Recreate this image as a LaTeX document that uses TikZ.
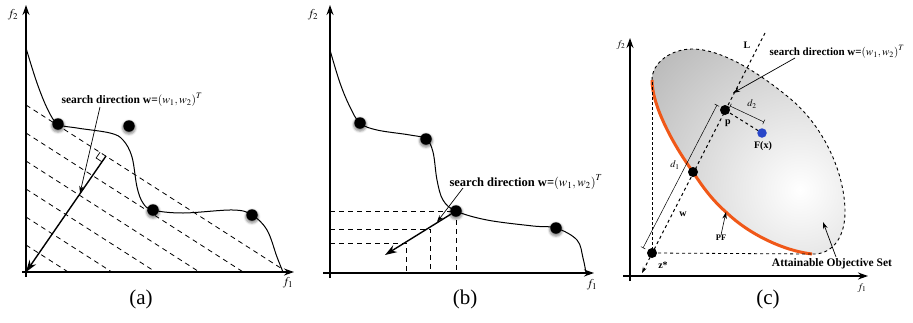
\documentclass[tikz,border=0pt]{standalone}
\usepackage{mathptmx}
\usepackage[no-math]{fontspec}
\setmainfont{Liberation Serif}
\usetikzlibrary{arrows.meta,shadows.blur,calc}
\definecolor{pforange}{RGB}{240,88,24}
\definecolor{fxblue}{RGB}{40,70,200}
\newcommand{\sdtext}{\textbf{search direction w=}$\left(w_1,w_2\right)^{T}$}
\newcommand{\aosupper}{(652,80) .. controls (652,62) and (672,49) .. (692,49) .. controls (720,49) and (755,70) .. (787,96) .. controls (825,126) and (845,175) .. (845,212) .. controls (845,240) and (830,255) .. (812,254)}
\newcommand{\aoslower}{(812,254) .. controls (785,251) and (750,235) .. (727,213) .. controls (712,200) and (702,186) .. (693,172) .. controls (672,143) and (652,105) .. (652,80)}
\begin{document}
\begin{tikzpicture}[x=1pt,y=-1pt,
  axis/.style={line width=1.5pt,-{Stealth[length=10pt,width=7pt]}},
  pfcurve/.style={line width=1pt},
  hatch/.style={line width=0.8pt,dash pattern=on 5pt off 4pt},
  dot/.style={circle,fill=black,inner sep=0pt,minimum size=11.5pt},
  sdot/.style={dot,blur shadow={shadow xshift=0pt,shadow yshift=-1.5pt,shadow blur radius=2pt,shadow scale=1.12,shadow opacity=45}},
  cdot/.style={circle,fill=black,inner sep=0pt,minimum size=10pt},
  dirarrow/.style={line width=1.4pt,-{Stealth[length=12pt,width=8pt]}},
  callout/.style={line width=0.7pt,-{Stealth[length=7pt,width=4.5pt]}},
  panel/.style={font=\fontsize{21}{23}\selectfont,inner sep=0pt},
  ax/.style={font=\fontsize{12}{14}\selectfont,inner sep=0pt},
  axc/.style={font=\fontsize{10}{12}\selectfont,inner sep=0pt},
  blbl/.style={font=\bfseries\fontsize{10}{12}\selectfont,inner sep=0pt},
  dlbl/.style={font=\fontsize{10}{12}\selectfont,inner sep=0pt},
  dimline/.style={line width=0.5pt,{Bar[width=5pt]}-{Bar[width=5pt]}},
]
\useasboundingbox (0,0) rectangle (913,322);

% ================= panel (a) =================
\coordinate (Oa) at (26,272);
\foreach \y/\xe in {245/68.2,217/111.9,189/155.7,161/199.4,133/243.2}
  \draw[hatch] (26,\y) -- (\xe,272);
\draw[hatch] (26,105) -- (281,268.2);
\draw[axis] (26,277) -- (26,5);
\draw[axis] (22,272) -- (294,272);
\node[ax] (f2a) at (13,15) {$f_2$};
\node[ax] (f1a) at (288,283) {$f_1$};
\coordinate (pa1) at (58,124);
\coordinate (pa2) at (153,210);
\coordinate (pa3) at (252,215);
\draw[pfcurve] plot[smooth,tension=0.6] coordinates {(26,48) (37,83) (48,110) (pa1) (77,128) (110,133) (123,140) (132,157) (137,187) (143,203) (pa2) (183,213) (233,210) (pa3) (267,230) (277,257) (283,272)};
\node[sdot] (a1) at (pa1) {};
\node[sdot] (a2) at (pa2) {};
\node[sdot] (a3) at (pa3) {};
\node[sdot] (a4) at (129,126) {};
\coordinate (Pa) at (106,156);
\draw[line width=0.7pt] (100.1,152.2) -- (96.1,158.0) -- (102.0,161.8);
\draw[dirarrow] (Pa) -- (Oa);
\node[font=\fontsize{11.5}{13}\selectfont,inner sep=0pt] (sda) at (132,100) {\sdtext};
\coordinate (sdaS) at (100,107);
\coordinate (ca) at (80,193);
\draw[callout] (sdaS) -- (ca);
\node[panel] (lba) at (141,299) {(a)};

% ================= panel (b) =================
\coordinate (pb1) at (360,123);
\coordinate (pb2) at (426,139);
\coordinate (pb3) at (456,211);
\coordinate (pb4) at (556,228);
\draw[hatch] (330,211) -- (pb3) -- (456,273);
\draw[hatch] (330,229) -- (430,229) -- (430,273);
\draw[hatch] (330,243) -- (406,243) -- (406,273);
\draw[axis] (330,278) -- (330,5);
\draw[axis] (323,273) -- (594,273);
\node[ax] (f2b) at (313,15) {$f_2$};
\node[ax] (f1b) at (592,285) {$f_1$};
\draw[pfcurve] plot[smooth,tension=0.6] coordinates {(330,50) (340,83) (350,107) (pb1) (377,130) (410,135) (pb2) (433,152) (437,180) (443,200) (pb3) (487,220) (533,226) (pb4) (577,240) (583,258) (586,273)};
\node[sdot] (b1) at (pb1) {};
\node[sdot] (b2) at (pb2) {};
\node[sdot] (b3) at (pb3) {};
\node[sdot] (b4) at (pb4) {};
\coordinate (bend) at (385,255);
\draw[dirarrow] (b3) -- (bend);
\node[font=\fontsize{12.5}{14}\selectfont,inner sep=0pt] (sdb) at (526,182) {\sdtext};
\coordinate (sdbS) at (463,188);
\coordinate (cb) at (437,222);
\draw[callout] (sdbS) -- (cb);
\node[panel] (lbb) at (465,299) {(b)};

% ================= panel (c) =================
\begin{scope}
\clip \aosupper -- \aoslower -- cycle;
\shade[inner color=white,outer color=black!30] (800,190) circle (215);
\end{scope}
\draw[dashed,line width=0.9pt] \aosupper;
\draw[pforange,line width=3pt] \aoslower;
\draw[axis] (630,281) -- (630,38);
\draw[axis] (623,276) -- (868,276);
\node[axc] (f2c) at (621,45) {$f_2$};
\node[axc] (f1c) at (862,288) {$f_1$};
\coordinate (zsp) at (652,253);
\coordinate (ptop) at (652,82);
\coordinate (hend) at (812,254);
\draw[densely dashed,line width=0.7pt] (ptop) -- (zsp);
\draw[dashed,line width=0.8pt] (zsp) -- (hend);
\coordinate (Lt) at (765,33);
\coordinate (Lb) at (642,273);
\draw[dashed,line width=1pt,-{Stealth[length=6pt,width=4pt]}] (Lt) -- (Lb);
\coordinate (pp) at (725,110);
\coordinate (pF) at (762,133);
\draw[dashed,line width=1pt] (pp) -- (pF);
\coordinate (d1a) at (643,248);
\coordinate (d1b) at (717,105);
\draw[dimline] (d1a) -- (d1b);
\coordinate (d2a) at (730,106);
\coordinate (d2b) at (764,122);
\draw[dimline] (d2a) -- (d2b);
\node[cdot] (zs) at (zsp) {};
\node[cdot] (pfd) at (693,172) {};
\node[cdot] (p) at (pp) {};
\node[circle,fill=fxblue,inner sep=0pt,minimum size=9.5pt] (F) at (pF) {};
\node[blbl] (Llbl) at (747,45) {L};
\node[blbl] (plbl) at (728,123) {p};
\node[blbl] (Flbl) at (763,146) {F(x)};
\node[blbl] (zlbl) at (663,265) {z*};
\node[blbl] (wlbl) at (683,214) {w};
\node[dlbl] (d1lbl) at (675,165) {$d_1$};
\node[dlbl] (d2lbl) at (752,104) {$d_2$};
\node[font=\bfseries\fontsize{8.5}{10}\selectfont,inner sep=0pt] (PFlbl) at (721,238) {PF};
\coordinate (PFtip) at (726,212);
\draw[callout,line width=0.6pt] (PFlbl.north) -- (PFtip);
\node[font=\bfseries\fontsize{11.5}{13}\selectfont,inner sep=0pt] (AOS) at (832,264) {Attainable Objective Set};
\coordinate (AOSs) at (836,257);
\coordinate (AOSt) at (823,222);
\draw[callout] (AOSs) -- (AOSt);
\node[font=\fontsize{11}{13}\selectfont,inner sep=0pt] (sdc) at (837,52) {\sdtext};
\coordinate (sdcS) at (795,58);
\coordinate (cc) at (733,93);
\draw[callout] (sdcS) -- (cc);
\node[panel] (lbc) at (768,299) {(c)};
\end{tikzpicture}
\end{document}
